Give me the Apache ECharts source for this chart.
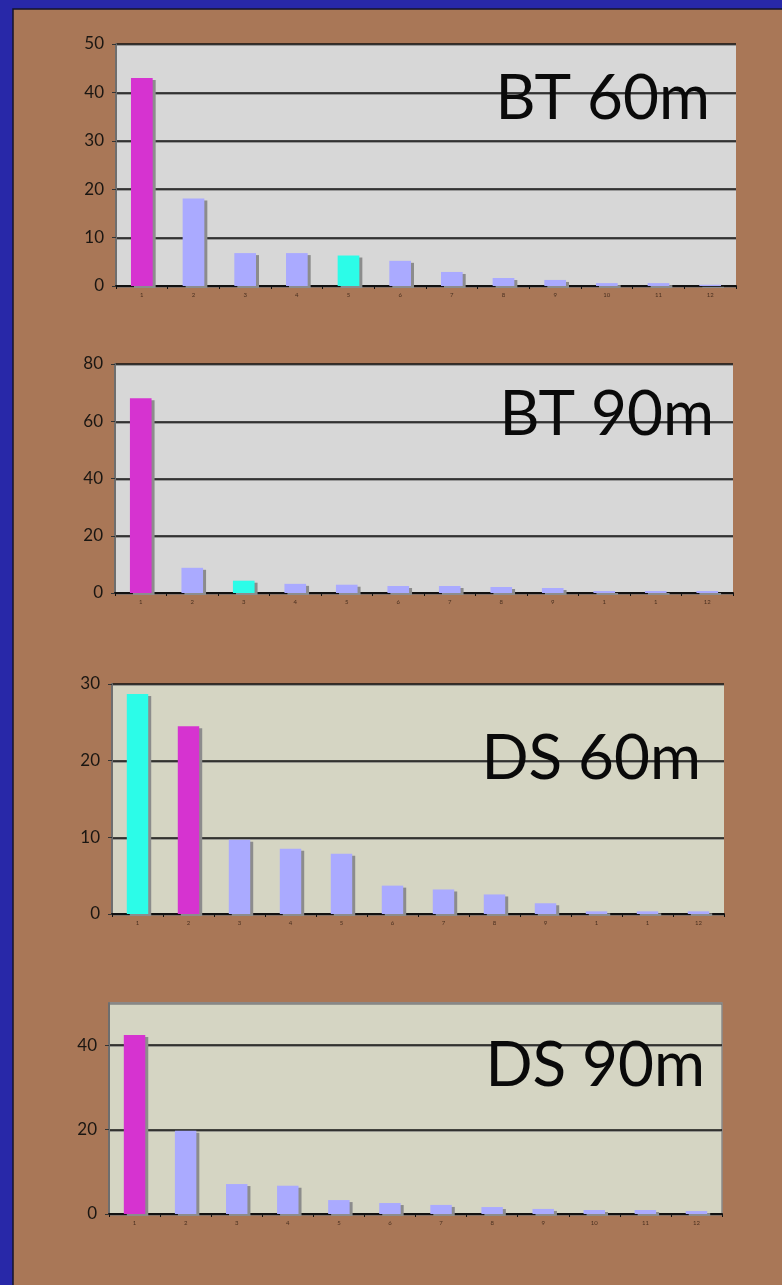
<!DOCTYPE html>
<html>
<head>
<meta charset="utf-8">
<style>
  html, body { margin: 0; padding: 0; background: #2828a8; }
  #chart { width: 782px; height: 1285px; }
</style>
<script src="https://cdn.jsdelivr.net/npm/echarts@6/dist/echarts.min.js"></script>
</head>
<body>
<div id="chart"></div>
<script>
// Panel titles
const panelTitles = ['BT 60m', 'BT 90m', 'DS 60m', 'DS 90m'];

// Category tick labels (as printed under each panel)
const labelsBT60 = ['1','2','3','4','5','6','7','8','9','10','11','12'];
const labelsBT90 = ['1','2','3','4','5','6','7','8','9','1','1','12'];
const labelsDS60 = ['1','2','3','4','5','6','7','8','9','1','1','12'];
const labelsDS90 = ['1','2','3','4','5','6','7','8','9','10','11','12'];

// Bar values
const valuesBT60 = [43, 18.1, 6.8, 6.8, 6.3, 5.2, 2.9, 1.65, 1.25, 0.6, 0.6, 0.25];
const valuesBT90 = [68, 8.8, 4.3, 3.2, 2.9, 2.45, 2.45, 2.1, 1.75, 0.7, 0.7, 0.7];
const valuesDS60 = [28.7, 24.5, 9.7, 8.5, 7.85, 3.7, 3.2, 2.55, 1.4, 0.35, 0.35, 0.35];
const valuesDS90 = [42.4, 19.7, 7.1, 6.7, 3.3, 2.6, 2.15, 1.65, 1.2, 0.95, 0.95, 0.7];

// Bar colour keys: m = magenta, c = cyan, b = lavender
const colorsBT60 = ['m','b','b','b','c','b','b','b','b','b','b','b'];
const colorsBT90 = ['m','b','c','b','b','b','b','b','b','b','b','b'];
const colorsDS60 = ['c','m','b','b','b','b','b','b','b','b','b','b'];
const colorsDS90 = ['m','b','b','b','b','b','b','b','b','b','b','b'];

// Y axis ranges
const yMax = [50, 80, 30, 50];
const yStep = [10, 20, 10, 20];

const palette = { m: '#d633d0', c: '#2cfce8', b: '#aaaaff' };
const fontFamily = 'Lato, "Open Sans", sans-serif';

// Plot areas (pixels)
const grids = [
  { left: 116, top: 44,   width: 620, height: 242, bg: '#d7d7d7', border: false },
  { left: 115, top: 364,  width: 618, height: 229, bg: '#d7d7d7', border: false },
  { left: 112, top: 684,  width: 612, height: 230, bg: '#d5d5c3', border: false },
  { left: 109, top: 1003, width: 613, height: 211, bg: '#d5d5c3', border: true }
];

// Title anchor (right edge, vertical middle)
const titlePos = [[710, 99], [714, 415], [701, 759], [705, 1066]];

const labelSets = [labelsBT60, labelsBT90, labelsDS60, labelsDS90];
const valueSets = [valuesBT60, valuesBT90, valuesDS60, valuesDS90];
const colorSets = [colorsBT60, colorsBT90, colorsDS60, colorsDS90];

const chart = echarts.init(document.getElementById('chart'), null, { renderer: 'canvas' });

const option = {
  animation: false,
  backgroundColor: '#2828a8',
  grid: grids.map(g => ({
    left: g.left, top: g.top, width: g.width, height: g.height,
    show: true, backgroundColor: g.bg,
    borderWidth: g.border ? 1.5 : 0, borderColor: '#8a8a8a',
    containLabel: false
  })),
  xAxis: grids.map((g, i) => ({
    type: 'category',
    gridIndex: i,
    data: labelSets[i],
    boundaryGap: true,
    axisLine: { show: true, lineStyle: { color: '#111', width: 2 } },
    axisTick: { show: true, length: 3, lineStyle: { color: '#111', width: 1 } },
    axisLabel: { fontSize: 6, color: '#4a3020', margin: 6, interval: 0, fontFamily: fontFamily },
    splitLine: { show: false }
  })),
  yAxis: grids.map((g, i) => ({
    type: 'value',
    gridIndex: i,
    min: 0,
    max: yMax[i],
    interval: yStep[i],
    axisLine: { show: true, lineStyle: { color: '#6e6e6e', width: 2 } },
    axisTick: { show: true, length: 4, lineStyle: { color: '#333', width: 1 } },
    axisLabel: {
      fontSize: 17, color: '#1a1612', margin: 12, fontFamily: fontFamily,
      showMaxLabel: i !== 3
    },
    splitLine: {
      show: true,
      lineStyle: {
        color: i === 3 ? ['#111', '#111', '#111', '#8a8a8a'] : '#111',
        width: 1.5,
        shadowColor: 'rgba(110,110,110,0.8)',
        shadowOffsetY: 1
      }
    }
  })),
  series: grids.map((g, i) => ({
    type: 'bar',
    xAxisIndex: i,
    yAxisIndex: i,
    barWidth: '42%',
    data: valueSets[i].map((v, k) => ({
      value: v,
      itemStyle: { color: palette[colorSets[i][k]] }
    })),
    itemStyle: {
      shadowColor: '#8c8c8c',
      shadowBlur: 0,
      shadowOffsetX: 3,
      shadowOffsetY: 2
    }
  })),
  graphic: [
    {
      type: 'rect', z: -10, silent: true,
      shape: { x: 13, y: 9, width: 782, height: 1290 },
      style: { fill: '#a97757', stroke: '#15152a', lineWidth: 1.5 }
    }
  ].concat(panelTitles.map((t, i) => ({
    type: 'text', z: 100, silent: true,
    x: titlePos[i][0], y: titlePos[i][1],
    style: {
      text: t,
      font: '400 62px ' + fontFamily,
      fill: '#0a0a0a',
      textAlign: 'right',
      textVerticalAlign: 'middle'
    }
  })))
};

chart.setOption(option);
</script>
</body>
</html>
